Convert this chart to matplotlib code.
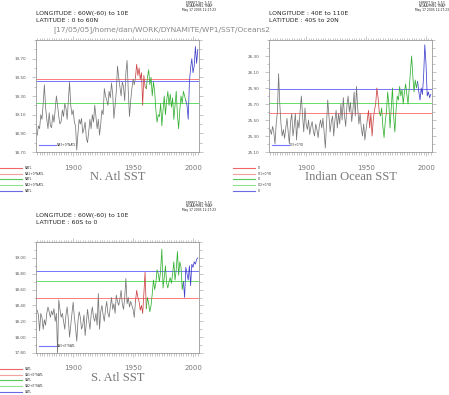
import numpy as np
import matplotlib
matplotlib.use("Agg")
import matplotlib.pyplot as plt
from matplotlib.lines import Line2D
from matplotlib.ticker import MultipleLocator, FixedLocator, FormatStrFormatter

years = np.arange(1870, 2005)

natl = [18.88, 18.98, 18.95, 19.10, 19.05, 19.22, 19.42, 19.18, 19.05, 18.95,
        19.12, 18.98, 18.96, 19.10, 19.02, 19.15, 19.30, 19.20, 19.08, 19.00,
        19.03, 19.15, 19.08, 19.22, 19.17, 19.05, 19.25, 19.45, 19.20, 19.10,
        19.15, 19.02, 18.98, 18.72, 18.90, 19.05, 19.00, 19.06, 18.90, 18.95,
        19.02, 18.85, 18.80, 18.92, 19.05, 18.95, 19.10, 19.02, 19.20, 19.08,
        18.95, 19.05, 18.88, 19.00, 19.15, 19.10, 19.38, 19.30, 19.26, 19.20,
        19.35, 19.28, 19.44, 19.32, 19.06, 19.20, 19.35, 19.62, 19.50, 19.40,
        19.30, 19.45, 19.40, 19.25, 19.55, 19.68, 19.35, 19.08, 19.25, 19.38,
        19.48, 19.42, 19.50, 19.64, 19.52, 19.60, 19.48, 19.55, 19.20, 19.52,
        19.40, 19.38, 19.50, 19.58, 19.42, 19.50, 19.30, 19.45, 19.35, 19.15,
        19.02, 19.10, 19.08, 19.22, 18.98, 19.15, 19.30, 19.10, 19.25, 19.35,
        19.20, 19.32, 19.18, 19.28, 19.05, 19.20, 19.35, 19.10, 18.95, 19.15,
        19.30, 19.22, 19.35, 19.30, 19.25, 19.20, 19.05, 19.45, 19.60, 19.70,
        19.55, 19.62, 19.83, 19.65, 19.80]

io = [25.38, 25.32, 25.42, 25.35, 25.20, 25.45, 25.60, 26.08, 25.70, 25.45,
      25.30, 25.38, 25.27, 25.40, 25.52, 25.35, 25.20, 25.48, 25.58, 25.30,
      25.42, 25.58, 25.25, 25.50, 25.40, 25.62, 25.80, 25.55, 25.35, 25.65,
      25.45, 25.38, 25.50, 25.32, 25.42, 25.48, 25.36, 25.30, 25.45, 25.38,
      25.28, 25.42, 25.50, 25.40, 25.52, 25.35, 25.15, 25.45, 25.75, 25.55,
      25.35, 25.48, 25.55, 25.30, 25.50, 25.62, 25.40, 25.58, 25.45, 25.70,
      25.50, 25.78, 25.55, 25.42, 25.68, 25.80, 25.60, 25.72, 25.48, 25.62,
      25.85, 25.55, 25.92, 25.65, 25.45, 25.58, 25.40, 25.30, 25.45, 25.25,
      25.38, 25.50, 25.62, 25.40, 25.58, 25.30, 25.50, 25.62, 25.70, 25.90,
      25.78, 25.60, 25.55, 25.65, 25.42, 25.28, 25.48, 25.60, 25.85, 25.70,
      25.40, 25.65, 25.90, 25.55, 25.35, 25.62, 25.80, 25.75, 25.92, 25.80,
      25.88, 25.70, 25.85, 25.95, 25.82, 25.70, 25.90, 26.10, 26.30, 26.05,
      25.85, 26.00, 25.90, 25.98, 25.85, 25.75, 25.90, 25.82, 26.05, 26.44,
      26.20, 25.80, 25.85, 25.78, 25.82]

satl = [18.34, 18.28, 18.08, 18.30, 18.25, 18.10, 18.22, 18.15, 18.30, 18.38,
        18.32, 18.25, 18.33, 18.28, 18.36, 18.20, 18.30, 17.80, 18.47, 18.35,
        18.25, 18.30, 18.20, 18.10, 18.28, 18.38, 18.22, 18.00, 18.15, 18.30,
        18.44, 18.25, 18.12, 17.95, 18.20, 18.32, 18.25, 18.10, 18.15, 18.28,
        18.02, 18.18, 18.35, 18.22, 18.10, 18.28, 18.38, 18.25, 18.20, 18.30,
        18.15, 18.55, 18.10, 18.32, 18.40, 18.28, 18.20, 18.35, 18.45, 18.30,
        18.25, 18.38, 18.50, 18.35, 18.42, 18.30, 18.53, 18.45, 18.40, 18.48,
        18.59, 18.42, 18.35, 18.50, 18.74, 18.42, 18.50, 18.38, 18.45, 18.40,
        18.35, 18.25, 18.45, 18.59, 18.50, 18.45, 18.34, 18.40, 18.30, 18.55,
        18.82, 18.36, 18.50, 18.42, 18.32, 18.40, 18.55, 18.72, 18.60, 18.68,
        18.85, 18.80, 18.70, 18.85, 19.11, 18.62, 18.75, 18.90, 18.68, 18.62,
        18.70, 18.75, 18.68, 18.80, 18.95, 18.72, 18.85, 19.08, 18.78, 18.95,
        18.88, 18.60, 18.70, 18.50, 18.88, 18.80, 18.72, 18.90, 18.65, 18.92,
        18.88, 18.95, 18.92, 18.98, 19.00]

# first year of the red, green and blue periods
natl_breaks = [1952, 1961, 1994]
io_breaks = [1951, 1961, 1993]
satl_breaks = [1952, 1961, 1992]

# period means drawn as horizontal lines (red, green, blue)
natl_means = [19.48, 19.23, 19.46]
io_means = [25.59, 25.71, 25.89]
satl_means = [18.50, 18.71, 18.83]

natl_names = ["NATL", "NA1+0*NATL", "NATL", "NA2+0*NATL", "NATL", "NA3+0*NATL"]
io_names = ["IO", "IO1+0*IO", "IO", "IO2+0*IO", "IO", "IO3+0*IO"]
satl_names = ["SATL", "SA1+0*SATL", "SATL", "SA2+0*SATL", "SATL", "SA3+0*SATL"]

W, H = 449, 395
seg_colors = ["#cc4444", "#33b033", "#4040cc"]
mean_colors = ["#ff7a7a", "#66dd66", "#7474ff"]
leg_colors = ["#ee6666", "#f4a0a0", "#55cc55", "#90e290", "#6a6ae8"]
gray = "#777777"

fig = plt.figure(figsize=(W / 100, H / 100), dpi=100)


def fx(x):
    return x / W


def fy(y):
    return 1 - y / H


def header(x, y, lon, lat):
    fig.text(fx(x), fy(y), "LONGITUDE : " + lon, fontsize=4.4, color="#222222", va="center")
    fig.text(fx(x), fy(y + 7), "LATITUDE : " + lat, fontsize=4.4, color="#222222", va="center")


def ferret_stamp(x, y):
    fig.text(fx(x), fy(y), "FERRET Ver. 5.53\nNOAA/PMEL TMAP\nMay 17 2005 12:17:23",
             fontsize=2.2, ha="center", va="top", color="#222222", linespacing=0.95)


def panel(x0, y0, x1, y1, vals, breaks, means, ylim, names, title):
    ax = fig.add_axes([fx(x0), fy(y1), fx(x1 - x0), (y1 - y0) / H])
    vals = np.array(vals)
    edges = [years[0]] + breaks + [years[-1]]
    cols = [gray] + seg_colors
    for i in range(4):
        m = (years >= edges[i]) & (years <= edges[i + 1])
        ax.plot(years[m], vals[m], color=cols[i], lw=0.55)
    for v, c in zip(means, mean_colors):
        ax.axhline(v, color=c, lw=0.7, zorder=0.5)
    ax.set_xlim(1869, 2005)
    ax.set_ylim(*ylim)
    ax.xaxis.set_major_locator(MultipleLocator(50))
    ax.xaxis.set_minor_locator(MultipleLocator(2))
    ax.yaxis.set_major_locator(FixedLocator(np.arange(ylim[0], ylim[1] - 0.05, 0.2)))
    ax.yaxis.set_minor_locator(MultipleLocator(0.1))
    ax.yaxis.set_major_formatter(FormatStrFormatter("%.2f"))
    ax.tick_params(which="both", direction="out", color="#999999", width=0.4,
                   top=True, right=True)
    ax.tick_params(which="major", length=3)
    ax.tick_params(which="minor", length=1.8)
    ax.tick_params(axis="y", labelsize=3, labelcolor="#555555", pad=4)
    ax.tick_params(axis="x", labelsize=5, labelcolor=gray, pad=6)
    for s in ax.spines.values():
        s.set_color("#999999")
        s.set_linewidth(0.6)
    # inner legend entry for the blue mean
    ax.plot([0.02, 0.12], [0.06, 0.06], transform=ax.transAxes, color=mean_colors[2], lw=0.8)
    ax.text(0.13, 0.06, names[5], transform=ax.transAxes, fontsize=2.2, va="center", color="#333333")
    # title under the axes
    fig.text(fx((x0 + x1) / 2), fy(y1 + 25), title, family="Liberation Serif",
             fontsize=9, color=gray, ha="center", va="center")
    # legend below the axes
    lx = x0 - 36
    for k in range(5):
        yy = y1 + 16 + k * 5.7
        fig.add_artist(Line2D([fx(lx), fx(lx + 22)], [fy(yy), fy(yy)], color=leg_colors[k], lw=0.8))
        fig.text(fx(lx + 25), fy(yy), names[k], fontsize=2.2, va="center", color="#333333")
    return ax


fig.text(fx(53), fy(30), "[17/05/05]/home/dan/WORK/DYNAMITE/WP1/SST/Oceans2",
         fontsize=5.4, color="#888888", va="center")

header(36, 13.5, "60W(-60) to 10E", "0 to 60N")
ferret_stamp(199, 0.5)
panel(36, 40, 199, 152, natl, natl_breaks, natl_means, (18.7, 19.9), natl_names, "N. Atl SST")

header(269, 13.5, "40E to 110E", "40S to 20N")
ferret_stamp(432, 0.5)
panel(269, 40, 432, 152, io, io_breaks, io_means, (25.1, 26.5), io_names, "Indian Ocean SST")

ferret_stamp(199, 200.5)
header(36, 215, "60W(-60) to 10E", "60S to 0")
panel(36, 242, 199, 353, satl, satl_breaks, satl_means, (17.8, 19.2), satl_names, "S. Atl SST")

fig.savefig("out.png", dpi=100)
